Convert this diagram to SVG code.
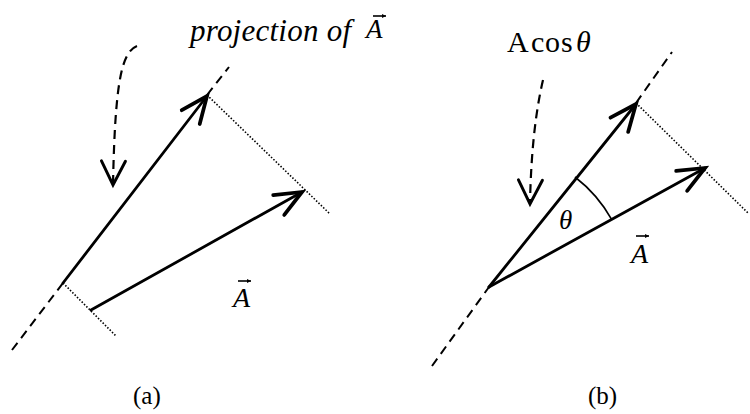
<svg xmlns="http://www.w3.org/2000/svg" width="750" height="414" viewBox="0 0 750 414">
<style>
.solid{stroke:#000;stroke-width:2.8;fill:none;stroke-linecap:round}
.dash{stroke:#000;stroke-width:2;fill:none;stroke-dasharray:9 6}
.dot{stroke:#000;stroke-width:1.6;fill:none;stroke-dasharray:1.5 1.8}
.curve{stroke:#000;stroke-width:2.2;fill:none;stroke-dasharray:9 6}
.thin{stroke:#000;stroke-width:1.6;fill:none}
text{font-family:'Liberation Serif','Times New Roman','DejaVu Serif',serif;fill:#000}
.i{font-style:italic}
</style>
<defs>
<marker id="head" markerUnits="userSpaceOnUse" markerWidth="40" markerHeight="40" refX="0" refY="0" viewBox="-25 -15 30 30" orient="auto" overflow="visible">
<path d="M-20,-8.5 L0,0 L-20,8.5" fill="none" stroke="#000" stroke-width="2.8" stroke-dasharray="none" stroke-linecap="round" stroke-linejoin="miter"/>
</marker>
<marker id="headd" markerUnits="userSpaceOnUse" markerWidth="40" markerHeight="40" refX="0" refY="0" viewBox="-25 -15 30 30" orient="auto" overflow="visible">
<path d="M-18,-9 L0,0 L-18,9" fill="none" stroke="#000" stroke-width="2.2" stroke-dasharray="none" stroke-linecap="round"/>
</marker>
<marker id="vec" markerUnits="userSpaceOnUse" markerWidth="10" markerHeight="10" refX="0" refY="0" viewBox="-5 -5 10 10" orient="auto" overflow="visible">
<path d="M-4,-2 L0,0 L-4,2 Z" fill="#000"/>
</marker>
</defs>
<rect width="750" height="414" fill="#fff"/>

<g id="panel-a">
  <g id="a-axis">
    <line class="dash" x1="12" y1="350" x2="63" y2="283"/>
    <line class="dash" x1="207" y1="95" x2="229" y2="67"/>
  </g>
  <g id="a-dots">
    <line class="dot" x1="207" y1="95" x2="330" y2="214"/>
    <line class="dot" x1="63" y1="283" x2="116" y2="336"/>
  </g>
  <g id="a-projection">
    <line class="solid" x1="63" y1="283" x2="207" y2="96" marker-end="url(#head)"/>
  </g>
  <g id="a-vector">
    <line class="solid" x1="91" y1="310" x2="302" y2="192" marker-end="url(#head)"/>
  </g>
  <g id="a-pointer">
    <path class="curve" d="M137,46 C122,52 115,80 113,185" marker-end="url(#headd)"/>
  </g>
  <g id="a-label-proj">
    <text class="i" font-family="Liberation Serif, serif" x="190" y="41" font-size="31" textLength="161" lengthAdjust="spacing">projection of</text>
    <text class="i" font-family="Liberation Serif, serif" x="366" y="38" font-size="27">A</text>
    <line class="thin" x1="373" y1="16" x2="386" y2="16" stroke-width="1.2" marker-end="url(#vec)"/>
  </g>
  <g id="a-label-A">
    <text class="i" font-family="Liberation Serif, serif" x="233" y="307" font-size="28">A</text>
    <line class="thin" x1="238" y1="281" x2="251" y2="281" stroke-width="1.2" marker-end="url(#vec)"/>
  </g>
  <text id="a-caption" font-family="Liberation Serif, serif" x="133" y="404" font-size="25">(a)</text>
</g>

<g id="panel-b">
  <g id="b-axis">
    <line class="dash" x1="432" y1="366" x2="489" y2="287"/>
    <line class="dash" x1="636" y1="103" x2="672" y2="52"/>
  </g>
  <g id="b-dots">
    <line class="dot" x1="636" y1="103" x2="748" y2="213"/>
  </g>
  <g id="b-projection">
    <line class="solid" x1="489" y1="287" x2="636" y2="104" marker-end="url(#head)"/>
  </g>
  <g id="b-vector">
    <line class="solid" x1="489" y1="287" x2="705" y2="168" marker-end="url(#head)"/>
  </g>
  <g id="b-angle">
    <path class="thin" d="M575,177 A140,140 0 0 1 611.6,219.4" stroke-width="1.8"/>
    <text class="i" font-family="Liberation Serif, serif" x="559" y="229" font-size="27">θ</text>
  </g>
  <g id="b-pointer">
    <path class="curve" d="M543,80 C536,110 531,150 530,204" marker-end="url(#headd)"/>
  </g>
  <g id="b-label-acos">
    <text font-family="Liberation Serif, serif" x="507" y="52" font-size="30">A<tspan x="531">c</tspan><tspan x="545">o</tspan><tspan x="561">s</tspan><tspan class="i" x="576">θ</tspan></text>
  </g>
  <g id="b-label-A">
    <text class="i" font-family="Liberation Serif, serif" x="631" y="263" font-size="28">A</text>
    <line class="thin" x1="636" y1="236" x2="649" y2="236" stroke-width="1.2" marker-end="url(#vec)"/>
  </g>
  <text id="b-caption" font-family="Liberation Serif, serif" x="588" y="404" font-size="25">(b)</text>
</g>
</svg>
